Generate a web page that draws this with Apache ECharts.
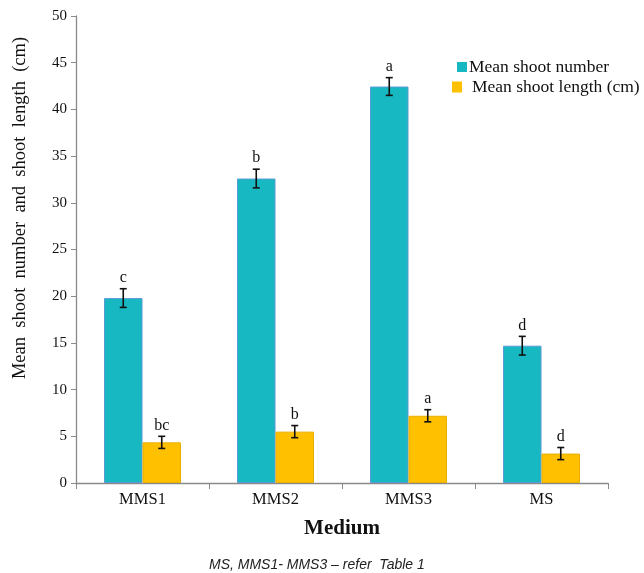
<!DOCTYPE html>
<html>
<head>
<meta charset="utf-8">
<script src="https://cdn.jsdelivr.net/npm/echarts@6/dist/echarts.min.js"></script>
<style>html,body{margin:0;padding:0;background:#fff}#c{width:644px;height:573px}</style>
</head>
<body>
<div id="c"></div>
<script>
var categories = ['MMS1', 'MMS2', 'MMS3', 'MS'];
var shootNumber = [19.8, 32.6, 42.45, 14.7];
var shootNumberErr = [1.0, 1.0, 0.95, 1.0];
var shootNumberLetters = ['c', 'b', 'a', 'd'];
var shootLength = [4.35, 5.5, 7.2, 3.15];
var shootLengthErr = [0.65, 0.65, 0.65, 0.65];
var shootLengthLetters = ['bc', 'b', 'a', 'd'];
var yTicks = [0, 5, 10, 15, 20, 25, 30, 35, 40, 45, 50];

var SERIF = '"Liberation Serif", "Times New Roman", serif';
var BAR_W = 38.5;

function errData(vals, errs, letters) {
  return vals.map(function (v, i) { return [i, v - errs[i], v + errs[i], letters[i]]; });
}

function errRender(offset) {
  return function (params, api) {
    var x = api.coord([api.value(0), 0])[0] + offset;
    var lo = api.coord([api.value(0), api.value(1)])[1];
    var hi = api.coord([api.value(0), api.value(2)])[1];
    var cap = 3.5;
    var st = { stroke: '#111', lineWidth: 1.6 };
    return {
      type: 'group',
      children: [
        { type: 'line', shape: { x1: x, y1: lo, x2: x, y2: hi }, style: st },
        { type: 'line', shape: { x1: x - cap, y1: lo, x2: x + cap, y2: lo }, style: st },
        { type: 'line', shape: { x1: x - cap, y1: hi, x2: x + cap, y2: hi }, style: st },
        { type: 'text', x: x, y: hi - 3, style: { text: api.value(3), fill: '#111', font: '16px ' + SERIF, textAlign: 'center', textVerticalAlign: 'bottom' } }
      ]
    };
  };
}

var chart = echarts.init(document.getElementById('c'));
chart.setOption({
  animation: false,
  backgroundColor: '#fff',
  grid: { left: 76, right: 36, top: 16, bottom: 90 },
  legend: [
    { data: ['Mean shoot number'], left: 457, top: 58, padding: 0, itemWidth: 10, itemHeight: 10, itemGap: 0,
      icon: 'rect', itemStyle: { borderWidth: 0 },
      textStyle: { fontFamily: SERIF, fontSize: 17.5, color: '#111', padding: [0, 0, 0, -3] } },
    { data: ['Mean shoot length (cm)'], left: 452, top: 78, padding: 0, itemWidth: 10, itemHeight: 11, itemGap: 0,
      icon: 'rect', itemStyle: { borderWidth: 0 },
      textStyle: { fontFamily: SERIF, fontSize: 17.5, color: '#111', padding: [0, 0, 0, 5] } }
  ],
  xAxis: {
    type: 'category',
    data: categories,
    name: 'Medium',
    nameLocation: 'middle',
    nameGap: 35,
    nameTextStyle: { fontFamily: SERIF, fontSize: 21, fontWeight: 'bold', color: '#111' },
    axisLine: { lineStyle: { color: '#8a8a8a', width: 1.3 } },
    axisTick: { show: true, length: 6, lineStyle: { color: '#8a8a8a' } },
    axisLabel: { fontFamily: SERIF, fontSize: 16.5, color: '#111', margin: 8 }
  },
  yAxis: {
    type: 'value',
    min: 0, max: 50, interval: 5,
    axisLine: { show: true, lineStyle: { color: '#8a8a8a', width: 1.3 } },
    axisTick: { show: true, length: 5, lineStyle: { color: '#8a8a8a' } },
    splitLine: { show: false },
    axisLabel: { fontFamily: SERIF, fontSize: 15, color: '#111', margin: 9,
      formatter: function (v) { return yTicks.indexOf(v) >= 0 ? String(v) : ''; } }
  },
  series: [
    { name: 'Mean shoot number', type: 'bar', data: shootNumber, barWidth: BAR_W, barGap: '0%',
      itemStyle: { color: '#17B8C1', borderColor: '#5B9BD5', borderWidth: 1 } },
    { name: 'Mean shoot length (cm)', type: 'bar', data: shootLength, barWidth: BAR_W, barGap: '0%',
      itemStyle: { color: '#FFC000', borderColor: '#E8AE00', borderWidth: 1 } },
    { type: 'custom', renderItem: errRender(-BAR_W / 2), data: errData(shootNumber, shootNumberErr, shootNumberLetters), z: 10 },
    { type: 'custom', renderItem: errRender(BAR_W / 2), data: errData(shootLength, shootLengthErr, shootLengthLetters), z: 10 }
  ],
  graphic: [
    { type: 'text', x: 20, y: 208, rotation: Math.PI / 2,
      style: { text: 'Mean  shoot  number  and  shoot  length  (cm)', font: '18.5px ' + SERIF, fill: '#111', textAlign: 'center', textVerticalAlign: 'middle' } },
    { type: 'text', left: 209, top: 558, style: { text: 'MS, MMS1- MMS3 \u2013 refer  Table 1', font: 'italic 14px "Liberation Sans", Arial, sans-serif', fill: '#222' } }
  ]
});
</script>
</body>
</html>
